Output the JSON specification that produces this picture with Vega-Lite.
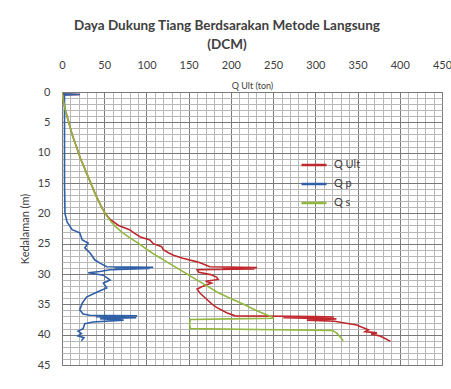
{
  "$schema": "https://vega.github.io/schema/vega-lite/v6.json",
  "autosize": {"type": "none"},
  "width": 380,
  "height": 273,
  "padding": {"left": 62, "top": 92, "right": 9, "bottom": 24},
  "background": "white",
  "title": {
    "text": ["Daya Dukung Tiang Berdsarakan Metode Langsung", "(DCM)"],
    "font": "Lato",
    "fontSize": 13.5,
    "fontWeight": "bold",
    "color": "#404040",
    "anchor": "middle",
    "dx": -25,
    "lineHeight": 19,
    "offset": 8
  },
  "config": {
    "view": {"stroke": "#808080", "strokeWidth": 1},
    "font": "Lato"
  },
  "data": {
    "values": [
      {"s": "Q Ult", "d": 0, "v": 0},
      {"s": "Q Ult", "d": 0.35, "v": 0},
      {"s": "Q Ult", "d": 0.4, "v": 21},
      {"s": "Q Ult", "d": 0.5, "v": 1},
      {"s": "Q Ult", "d": 1, "v": 1},
      {"s": "Q Ult", "d": 2, "v": 2.5},
      {"s": "Q Ult", "d": 3, "v": 4},
      {"s": "Q Ult", "d": 4, "v": 6},
      {"s": "Q Ult", "d": 5, "v": 8},
      {"s": "Q Ult", "d": 6, "v": 10},
      {"s": "Q Ult", "d": 7, "v": 12},
      {"s": "Q Ult", "d": 8, "v": 14.5},
      {"s": "Q Ult", "d": 9, "v": 17},
      {"s": "Q Ult", "d": 10, "v": 19.5},
      {"s": "Q Ult", "d": 11, "v": 22},
      {"s": "Q Ult", "d": 12, "v": 25},
      {"s": "Q Ult", "d": 13, "v": 28},
      {"s": "Q Ult", "d": 14, "v": 31},
      {"s": "Q Ult", "d": 15, "v": 34},
      {"s": "Q Ult", "d": 16, "v": 37},
      {"s": "Q Ult", "d": 17, "v": 40},
      {"s": "Q Ult", "d": 18, "v": 43.5},
      {"s": "Q Ult", "d": 19, "v": 47},
      {"s": "Q Ult", "d": 20, "v": 51},
      {"s": "Q Ult", "d": 21, "v": 57},
      {"s": "Q Ult", "d": 22, "v": 67},
      {"s": "Q Ult", "d": 22.7, "v": 80},
      {"s": "Q Ult", "d": 23.3, "v": 86},
      {"s": "Q Ult", "d": 23.9, "v": 93},
      {"s": "Q Ult", "d": 24.4, "v": 104},
      {"s": "Q Ult", "d": 25, "v": 108},
      {"s": "Q Ult", "d": 25.5, "v": 118},
      {"s": "Q Ult", "d": 26, "v": 120},
      {"s": "Q Ult", "d": 26.5, "v": 126},
      {"s": "Q Ult", "d": 26.9, "v": 132},
      {"s": "Q Ult", "d": 27.4, "v": 143},
      {"s": "Q Ult", "d": 28, "v": 160},
      {"s": "Q Ult", "d": 28.4, "v": 168},
      {"s": "Q Ult", "d": 28.8, "v": 175},
      {"s": "Q Ult", "d": 28.95, "v": 231},
      {"s": "Q Ult", "d": 29.05, "v": 190},
      {"s": "Q Ult", "d": 29.15, "v": 228},
      {"s": "Q Ult", "d": 29.3, "v": 160},
      {"s": "Q Ult", "d": 29.7, "v": 162},
      {"s": "Q Ult", "d": 30.1, "v": 176},
      {"s": "Q Ult", "d": 30.5, "v": 183},
      {"s": "Q Ult", "d": 30.9, "v": 185},
      {"s": "Q Ult", "d": 31.2, "v": 170},
      {"s": "Q Ult", "d": 31.5, "v": 177},
      {"s": "Q Ult", "d": 32, "v": 167},
      {"s": "Q Ult", "d": 32.5, "v": 160},
      {"s": "Q Ult", "d": 33.1, "v": 163},
      {"s": "Q Ult", "d": 34, "v": 170},
      {"s": "Q Ult", "d": 35, "v": 178},
      {"s": "Q Ult", "d": 35.5, "v": 183},
      {"s": "Q Ult", "d": 36.4, "v": 195},
      {"s": "Q Ult", "d": 36.9, "v": 205},
      {"s": "Q Ult", "d": 37.0, "v": 300},
      {"s": "Q Ult", "d": 37.1, "v": 322},
      {"s": "Q Ult", "d": 37.2, "v": 262},
      {"s": "Q Ult", "d": 37.4, "v": 325},
      {"s": "Q Ult", "d": 37.6, "v": 290},
      {"s": "Q Ult", "d": 37.8, "v": 323},
      {"s": "Q Ult", "d": 38.0, "v": 331},
      {"s": "Q Ult", "d": 38.4, "v": 349},
      {"s": "Q Ult", "d": 38.8, "v": 356},
      {"s": "Q Ult", "d": 39.2, "v": 363},
      {"s": "Q Ult", "d": 39.5, "v": 359},
      {"s": "Q Ult", "d": 39.7, "v": 373},
      {"s": "Q Ult", "d": 39.9, "v": 366},
      {"s": "Q Ult", "d": 40.2, "v": 376},
      {"s": "Q Ult", "d": 40.6, "v": 382},
      {"s": "Q Ult", "d": 41.1, "v": 389},

      {"s": "Q p", "d": 0.3, "v": 0},
      {"s": "Q p", "d": 0.4, "v": 21},
      {"s": "Q p", "d": 0.5, "v": 3},
      {"s": "Q p", "d": 5, "v": 3},
      {"s": "Q p", "d": 10, "v": 3},
      {"s": "Q p", "d": 15, "v": 3},
      {"s": "Q p", "d": 20, "v": 3.5},
      {"s": "Q p", "d": 21.4, "v": 6},
      {"s": "Q p", "d": 22.7, "v": 12},
      {"s": "Q p", "d": 23.2, "v": 21},
      {"s": "Q p", "d": 24.4, "v": 24},
      {"s": "Q p", "d": 24.9, "v": 31},
      {"s": "Q p", "d": 25.7, "v": 27},
      {"s": "Q p", "d": 26.5, "v": 33},
      {"s": "Q p", "d": 27.7, "v": 39},
      {"s": "Q p", "d": 28.2, "v": 45},
      {"s": "Q p", "d": 28.8, "v": 53},
      {"s": "Q p", "d": 28.9, "v": 108},
      {"s": "Q p", "d": 29.0, "v": 62},
      {"s": "Q p", "d": 29.1, "v": 104},
      {"s": "Q p", "d": 29.3, "v": 57},
      {"s": "Q p", "d": 29.6, "v": 45},
      {"s": "Q p", "d": 29.8, "v": 31},
      {"s": "Q p", "d": 30.2, "v": 49},
      {"s": "Q p", "d": 31.0, "v": 57},
      {"s": "Q p", "d": 31.5, "v": 49},
      {"s": "Q p", "d": 32.3, "v": 53},
      {"s": "Q p", "d": 33.0, "v": 41},
      {"s": "Q p", "d": 33.8, "v": 29},
      {"s": "Q p", "d": 34.8, "v": 24},
      {"s": "Q p", "d": 35.9, "v": 21},
      {"s": "Q p", "d": 36.6, "v": 25},
      {"s": "Q p", "d": 36.8, "v": 33},
      {"s": "Q p", "d": 36.9, "v": 89},
      {"s": "Q p", "d": 37.05, "v": 40},
      {"s": "Q p", "d": 37.2, "v": 88},
      {"s": "Q p", "d": 37.35, "v": 45},
      {"s": "Q p", "d": 37.6, "v": 73},
      {"s": "Q p", "d": 37.9, "v": 37},
      {"s": "Q p", "d": 38.2, "v": 27},
      {"s": "Q p", "d": 39.0, "v": 25},
      {"s": "Q p", "d": 39.4, "v": 19},
      {"s": "Q p", "d": 39.8, "v": 23},
      {"s": "Q p", "d": 40.2, "v": 19},
      {"s": "Q p", "d": 40.5, "v": 26},
      {"s": "Q p", "d": 41.0, "v": 23},

      {"s": "Q s", "d": 0, "v": 0},
      {"s": "Q s", "d": 1, "v": 1},
      {"s": "Q s", "d": 2, "v": 2.5},
      {"s": "Q s", "d": 3, "v": 4},
      {"s": "Q s", "d": 4, "v": 6},
      {"s": "Q s", "d": 5, "v": 8},
      {"s": "Q s", "d": 6, "v": 10},
      {"s": "Q s", "d": 7, "v": 12},
      {"s": "Q s", "d": 8, "v": 14.5},
      {"s": "Q s", "d": 9, "v": 17},
      {"s": "Q s", "d": 10, "v": 19.5},
      {"s": "Q s", "d": 11, "v": 22},
      {"s": "Q s", "d": 12, "v": 25},
      {"s": "Q s", "d": 13, "v": 28},
      {"s": "Q s", "d": 14, "v": 31},
      {"s": "Q s", "d": 15, "v": 34},
      {"s": "Q s", "d": 16, "v": 37},
      {"s": "Q s", "d": 17, "v": 40},
      {"s": "Q s", "d": 18, "v": 43.5},
      {"s": "Q s", "d": 19, "v": 47},
      {"s": "Q s", "d": 20, "v": 51},
      {"s": "Q s", "d": 21, "v": 56},
      {"s": "Q s", "d": 22, "v": 62},
      {"s": "Q s", "d": 23, "v": 70},
      {"s": "Q s", "d": 24, "v": 80},
      {"s": "Q s", "d": 25, "v": 91},
      {"s": "Q s", "d": 26, "v": 101},
      {"s": "Q s", "d": 27, "v": 112},
      {"s": "Q s", "d": 28, "v": 124},
      {"s": "Q s", "d": 29, "v": 136},
      {"s": "Q s", "d": 30, "v": 148},
      {"s": "Q s", "d": 31, "v": 160},
      {"s": "Q s", "d": 32, "v": 172},
      {"s": "Q s", "d": 33, "v": 184},
      {"s": "Q s", "d": 34, "v": 199},
      {"s": "Q s", "d": 35, "v": 215},
      {"s": "Q s", "d": 36, "v": 230},
      {"s": "Q s", "d": 36.6, "v": 240},
      {"s": "Q s", "d": 37.1, "v": 249},
      {"s": "Q s", "d": 37.3, "v": 250},
      {"s": "Q s", "d": 37.4, "v": 200},
      {"s": "Q s", "d": 37.5, "v": 152},
      {"s": "Q s", "d": 38.2, "v": 151},
      {"s": "Q s", "d": 39.0, "v": 152},
      {"s": "Q s", "d": 39.15, "v": 230},
      {"s": "Q s", "d": 39.3, "v": 320},
      {"s": "Q s", "d": 39.7, "v": 325},
      {"s": "Q s", "d": 40.3, "v": 329},
      {"s": "Q s", "d": 41.0, "v": 333}
    ]
  },
  "mark": {"type": "line", "strokeWidth": 1.6, "clip": true},
  "encoding": {
    "x": {
      "field": "v",
      "type": "quantitative",
      "scale": {"domain": [0, 450], "nice": false, "zero": false},
      "axis": {
        "orient": "top",
        "title": "Q Ult (ton)",
        "titleFontSize": 9,
        "titleFontWeight": "normal",
        "titleColor": "#404040",
        "titleY": -7,
        "titleBaseline": "middle",
        "values": [0,10,20,30,40,50,60,70,80,90,100,110,120,130,140,150,160,170,180,190,200,210,220,230,240,250,260,270,280,290,300,310,320,330,340,350,360,370,380,390,400,410,420,430,440,450],
        "labelExpr": "datum.value % 50 === 0 ? datum.label : ''",
        "labelFontSize": 11,
        "labelColor": "#404040",
        "labelPadding": 22,
        "labelFlush": false,
        "labelOverlap": false,
        "ticks": false,
        "domain": false,
        "grid": true,
        "gridColor": {"condition": {"test": "datum.value % 50 === 0", "value": "#7a7a7a"}, "value": "#b8b8b8"},
        "gridWidth": 1,
        "gridOpacity": 1
      }
    },
    "y": {
      "field": "d",
      "type": "quantitative",
      "scale": {"domain": [0, 45], "reverse": true, "nice": false, "zero": false},
      "axis": {
        "orient": "left",
        "title": "Kedalaman (m)",
        "titleFontSize": 11,
        "titleFontWeight": "normal",
        "titleColor": "#404040",
        "titlePadding": 7,
        "values": [0,1,2,3,4,5,6,7,8,9,10,11,12,13,14,15,16,17,18,19,20,21,22,23,24,25,26,27,28,29,30,31,32,33,34,35,36,37,38,39,40,41,42,43,44,45],
        "labelExpr": "datum.value % 5 === 0 ? datum.label : ''",
        "labelFontSize": 11,
        "labelColor": "#404040",
        "labelPadding": 12,
        "labelOverlap": false,
        "labelFlush": false,
        "ticks": false,
        "domain": false,
        "grid": true,
        "gridColor": {"condition": {"test": "datum.value % 5 === 0", "value": "#7a7a7a"}, "value": "#b8b8b8"},
        "gridWidth": 1,
        "gridOpacity": 1
      }
    },
    "color": {
      "field": "s",
      "type": "nominal",
      "scale": {"domain": ["Q Ult", "Q p", "Q s"], "range": ["#c0282d", "#2f5fa7", "#92b83f"]},
      "legend": {
        "orient": "none",
        "legendX": 238,
        "legendY": 59,
        "title": null,
        "symbolType": "stroke",
        "symbolSize": 625,
        "symbolStrokeWidth": 2.5,
        "labelFontSize": 11,
        "labelColor": "#404040",
        "rowPadding": -1.5,
        "labelOffset": 6
      }
    },
    "order": {"field": "d", "type": "quantitative"}
  }
}
